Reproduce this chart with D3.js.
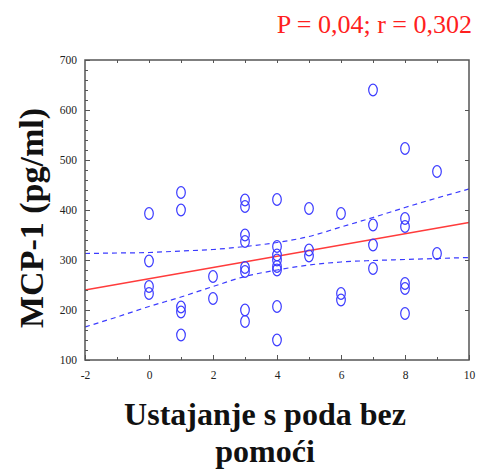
<!DOCTYPE html>
<html>
<head>
<meta charset="utf-8">
<script src="https://cdn.jsdelivr.net/npm/d3@7"></script>
<style>
  html, body { margin: 0; padding: 0; background: #fff; }
  svg { display: block; }
</style>
</head>
<body>
<svg id="chart" width="477" height="471"></svg>
<script>
// ---- data ----
const xValues = [0,0,0,0, 1,1,1,1,1, 2,2, 3,3,3,3,3,3,3,3, 4,4,4,4,4,4,4,4, 5,5,5, 6,6,6, 7,7,7,7, 8,8,8,8,8,8, 9,9];
const yValues = [393,298,247,233, 435,400,206,196,150, 267,223, 420,407,350,337,285,277,200,177,
                 421,327,310,300,287,280,207,140, 403,320,308, 393,233,220, 640,370,330,283,
                 523,383,367,253,243,193, 477,313];
const fitX = [-2, 10];
const fitY = [240, 375];
const bandX = [-2,-1,0,1,2,3,4,5,6,7,8,9,10];
const bandUpper = [313,314,315,318,321,327,335,347,366,385,405,424,442];
const bandLower = [166,186,207,226,247,267,280,290,296,299,301,303,305];
const xTickLabels = ["-2","0","2","4","6","8","10"];
const yTickLabels = ["100","200","300","400","500","600","700"];
const statText = "P = 0,04; r = 0,302";
const yTitle = "MCP-1 (pg/ml)";
const xTitleLines = ["Ustajanje s poda bez", "pomoći"];

// ---- layout ----
const svg = d3.select("#chart");
const L = 85, R = 469, T = 60, B = 360;
const x = d3.scaleLinear().domain([-2, 10]).range([L, R]);
const y = d3.scaleLinear().domain([100, 700]).range([B, T]);
const serif = "'Liberation Serif', 'Times New Roman', serif";

const g = svg.append("g");

// fit line and confidence bands
const band = d3.line().x(d => x(d[0])).y(d => y(d[1])).curve(d3.curveMonotoneX);
g.append("path")
  .attr("d", band(bandX.map((v,i)=>[v, bandUpper[i]])))
  .attr("fill","none").attr("stroke","#3b3bff").attr("stroke-width",1.2)
  .attr("stroke-dasharray","5,4");
g.append("path")
  .attr("d", band(bandX.map((v,i)=>[v, bandLower[i]])))
  .attr("fill","none").attr("stroke","#3b3bff").attr("stroke-width",1.2)
  .attr("stroke-dasharray","5,4");
g.append("path")
  .attr("d", d3.line().x(d=>x(d[0])).y(d=>y(d[1]))(fitX.map((v,i)=>[v, fitY[i]])))
  .attr("fill","none").attr("stroke","#ff3b3b").attr("stroke-width",1.4);

// points
g.selectAll("ellipse.pt").data(xValues.map((v,i)=>[v, yValues[i]])).enter()
  .append("ellipse").attr("class","pt")
  .attr("cx", d=>x(d[0])).attr("cy", d=>y(d[1]))
  .attr("rx", 4.3).attr("ry", 5.8)
  .attr("fill","none").attr("stroke","#3b3bff").attr("stroke-width",1.2);

// axes (ticks inward)
const axisColor = "#555";
function styleAxis(sel) {
  sel.select(".domain").remove();
  sel.selectAll("line").attr("stroke", axisColor).attr("stroke-width", 1);
  sel.selectAll("text").attr("font-family", serif).attr("font-size", 11.5).attr("fill", "#222");
}
// bottom major
svg.append("g").attr("transform",`translate(0,${B})`)
  .call(d3.axisBottom(x).tickValues(xTickLabels.map(Number)).tickSize(-5).tickPadding(11).tickFormat((d,i)=>xTickLabels[i]))
  .call(styleAxis);
// bottom minor
svg.append("g").attr("transform",`translate(0,${B})`)
  .call(d3.axisBottom(x).tickValues(d3.range(-1, 10, 2)).tickSize(-3).tickFormat(""))
  .call(styleAxis);
// top
svg.append("g").attr("transform",`translate(0,${T})`)
  .call(d3.axisTop(x).tickValues(d3.range(-1, 10, 1)).tickSize(-3).tickFormat(""))
  .call(styleAxis);
// left major
svg.append("g").attr("transform",`translate(${L},0)`)
  .call(d3.axisLeft(y).tickValues(yTickLabels.map(Number)).tickSize(-5).tickPadding(8).tickFormat((d,i)=>yTickLabels[i]))
  .call(styleAxis);
// left minor
svg.append("g").attr("transform",`translate(${L},0)`)
  .call(d3.axisLeft(y).tickValues(d3.range(120, 700, 20).filter(v => v % 100 !== 0)).tickSize(-3).tickFormat(""))
  .call(styleAxis);
// right
svg.append("g").attr("transform",`translate(${R},0)`)
  .call(d3.axisRight(y).tickValues(d3.range(200, 700, 100)).tickSize(-4).tickFormat(""))
  .call(styleAxis);

// frame
svg.append("rect").attr("x", L).attr("y", T).attr("width", R-L).attr("height", B-T)
  .attr("fill","none").attr("stroke", axisColor).attr("stroke-width", 1.5);

// stat text
svg.append("text").attr("x", 472).attr("y", 33).attr("text-anchor","end")
  .attr("font-family", serif).attr("font-size", 26).attr("fill","#ff2020")
  .text(statText);

// y title
svg.append("text").attr("transform", "translate(43,218) rotate(-90)")
  .attr("text-anchor","middle").attr("font-family", serif).attr("font-weight","bold")
  .attr("font-size", 34).attr("fill","#111").text(yTitle);

// x title
svg.selectAll("text.xt").data(xTitleLines).enter().append("text").attr("class","xt")
  .attr("x", 265).attr("y", (d,i) => 425 + i*37).attr("text-anchor","middle")
  .attr("font-family", serif).attr("font-weight","bold").attr("font-size", 32)
  .attr("fill","#111").text(d => d);
</script>
</body>
</html>
